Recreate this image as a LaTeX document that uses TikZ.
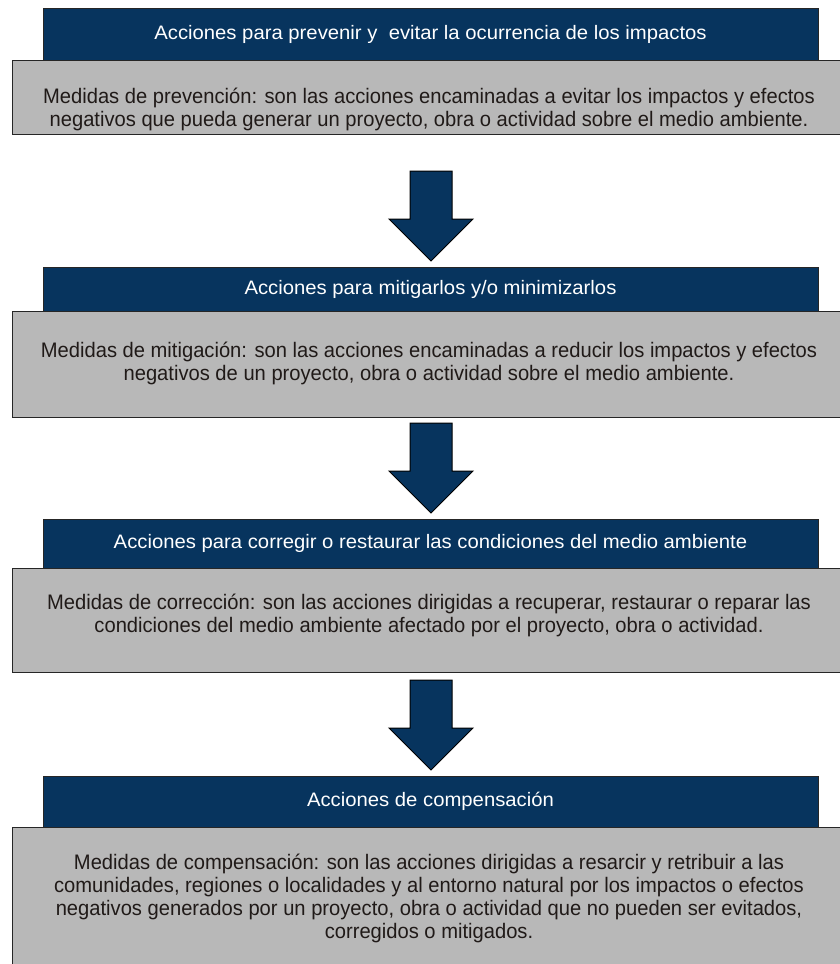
\documentclass[tikz,border=0pt]{standalone}
\usepackage{fontspec}
\setmainfont{Liberation Sans}[FakeStretch=0.96]
\newfontfamily\hdrfont{Liberation Sans}[FakeStretch=1.04]
\usetikzlibrary{calc}
\definecolor{hdrblue}{RGB}{7,52,94}
\definecolor{boxgrey}{RGB}{184,184,184}
\definecolor{bodytext}{RGB}{32,26,24}
\begin{document}
\begin{tikzpicture}[x=1pt,y=-1pt,
  hdr/.style={rectangle,draw=black!85,line width=1pt,fill=hdrblue,text=white,
    minimum width=775pt,inner sep=0pt,align=center,
    font=\hdrfont\fontsize{19.5}{22}\selectfont},
  body/.style={rectangle,draw=black!85,line width=1pt,fill=boxgrey,
    minimum width=840pt,inner sep=0pt},
  bodytxt/.style={inner sep=0pt,align=center,text=bodytext,
    font=\fontsize{21}{23}\selectfont},
  blockarrow/.style={draw=black,line width=1pt,fill=hdrblue,line join=miter},
  downarr/.pic={\path[blockarrow] (-21,0) -- (21,0) -- (21,48) -- (42,48) -- (0,90)
     -- (-42,48) -- (-21,48) -- cycle;}]
\useasboundingbox (0,0) rectangle (840,964);
\clip (0,0) rectangle (840,964);
% box 1
\node[hdr,minimum height=52pt] (h1) at (430.5,34) {Acciones para prevenir y~ evitar la ocurrencia de los impactos};
\node[body,minimum height=74pt] (g1) at (432,97) {};
\node[bodytxt] (t1) at ($(g1.center)+(-3,12)$) {Medidas de prevención: son las acciones encaminadas a evitar los impactos y efectos\\negativos que pueda generar un proyecto, obra o actividad sobre el medio ambiente.};
\pic at (431,171) {downarr};
% box 2
\node[hdr,minimum height=44pt] (h2) at (430.5,289) {Acciones para mitigarlos y/o minimizarlos};
\node[body,minimum height=106pt] (g2) at (432,364) {};
\node[bodytxt] (t2) at ($(g2.center)+(-3,-1)$) {Medidas de mitigación: son las acciones encaminadas a reducir los impactos y efectos\\negativos de un proyecto, obra o actividad sobre el medio ambiente.};
\pic at (431,423) {downarr};
% box 3
\node[hdr,minimum height=49pt] (h3) at (430.5,543.5) {Acciones para corregir o restaurar las condiciones del medio ambiente};
\node[body,minimum height=104pt] (g3) at (432,620) {};
\node[bodytxt] (t3) at ($(g3.center)+(-3,-5)$) {Medidas de corrección: son las acciones dirigidas a recuperar, restaurar o reparar las\\condiciones del medio ambiente afectado por el proyecto, obra o actividad.};
\pic at (431,680) {downarr};
% box 4
\node[hdr,minimum height=51pt] (h4) at (430.5,801.5) {Acciones de compensación};
\node[body,minimum height=148pt] (g4) at (432,901) {};
\node[bodytxt] (t4) at ($(g4.center)+(-3,-3)$) {Medidas de compensación: son las acciones dirigidas a resarcir y retribuir a las\\comunidades, regiones o localidades y al entorno natural por los impactos o efectos\\negativos generados por un proyecto, obra o actividad que no pueden ser evitados,\\corregidos o mitigados.};
\end{tikzpicture}
\end{document}
